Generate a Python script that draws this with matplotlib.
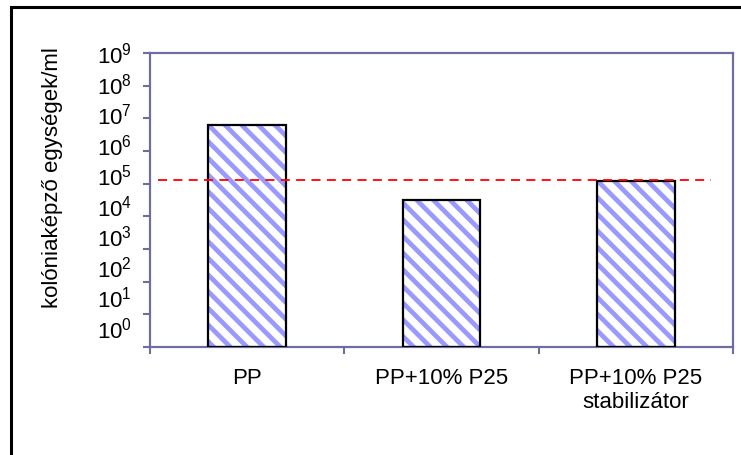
#!/usr/bin/env python
# coding: utf-8

import numpy as np
import matplotlib
matplotlib.use('Agg')
import matplotlib.pyplot as plt

plt.rcParams['font.family']     = ['Liberation Sans', 'DejaVu Sans']
plt.rcParams['hatch.linewidth'] = 3.4

# data
categories = ['PP', 'PP+10% P25', 'PP+10% P25\nstabilizátor']
cfu        = [6.2e6, 3.1e4, 1.2e5]
threshold  = 1.3e5
decades    = list(range(0, 10))

axis_col  = '#6e6e9e'
hatch_col = '#9999ff'

fig = plt.figure(figsize=(7.41, 4.55), dpi=100)
ax  = fig.add_axes([150/741, 1 - 347/455, 583/741, 294/455])

x = np.arange(len(categories))
ax.set_yscale('log')

# hatched fill, then black outline on top
ax.bar(x, np.array(cfu) - 1, bottom=1, width=0.4, facecolor='white',
       edgecolor=hatch_col, hatch='\\\\', linewidth=0, zorder=2)
ax.bar(x, np.array(cfu) - 1, bottom=1, width=0.4, fill=False,
       edgecolor='black', linewidth=1.6, zorder=3)

ax.axhline(threshold, xmin=0.014, xmax=0.962, color='red', lw=1.3,
           dashes=(5, 3.5), zorder=4)

ax.set_xlim(-0.5, len(categories) - 0.5)
ax.set_ylim(10.0 ** decades[0], 10.0 ** decades[-1])

# category ticks between groups, labels under the bars
ax.set_xticks(x, categories)
ax.set_xticks(np.arange(len(categories) + 1) - 0.5, minor=True)
ax.tick_params(axis='x', which='major', length=0, pad=15, labelsize=16)
ax.tick_params(axis='x', which='minor', length=5, width=1.5, color=axis_col)

# y ticks on decades, labels sit a bit off the ticks like in the original
ax.set_yticks([10.0 ** d for d in decades], [''] * len(decades))
lab_pos = [10.0 ** (d + 0.584 * (decades[-1] - d) / decades[-1] - 1e-4) for d in decades]
ax.set_yticks(lab_pos, [r'$\mathregular{10^{%d}}$' % d for d in decades], minor=True)
ax.tick_params(axis='y', which='major', length=5, width=1.5, color=axis_col)
ax.tick_params(axis='y', which='minor', length=0, pad=13, labelsize=16)

for s in ax.spines.values():
    s.set_color(axis_col)
    s.set_linewidth(1.6)

fig.text(53/741, 1 - 177.5/455, 'kolóniaképző egységek/ml', rotation=90,
         ha='center', va='center', fontsize=16)

# outer frame (cut by the image edge on right and bottom)
fig.add_artist(plt.Rectangle((11/741, -0.5), 2, 1.5 - 7/455, transform=fig.transFigure,
                             fill=False, lw=2.2, ec='black'))

fig.savefig('out.png', dpi=100)
